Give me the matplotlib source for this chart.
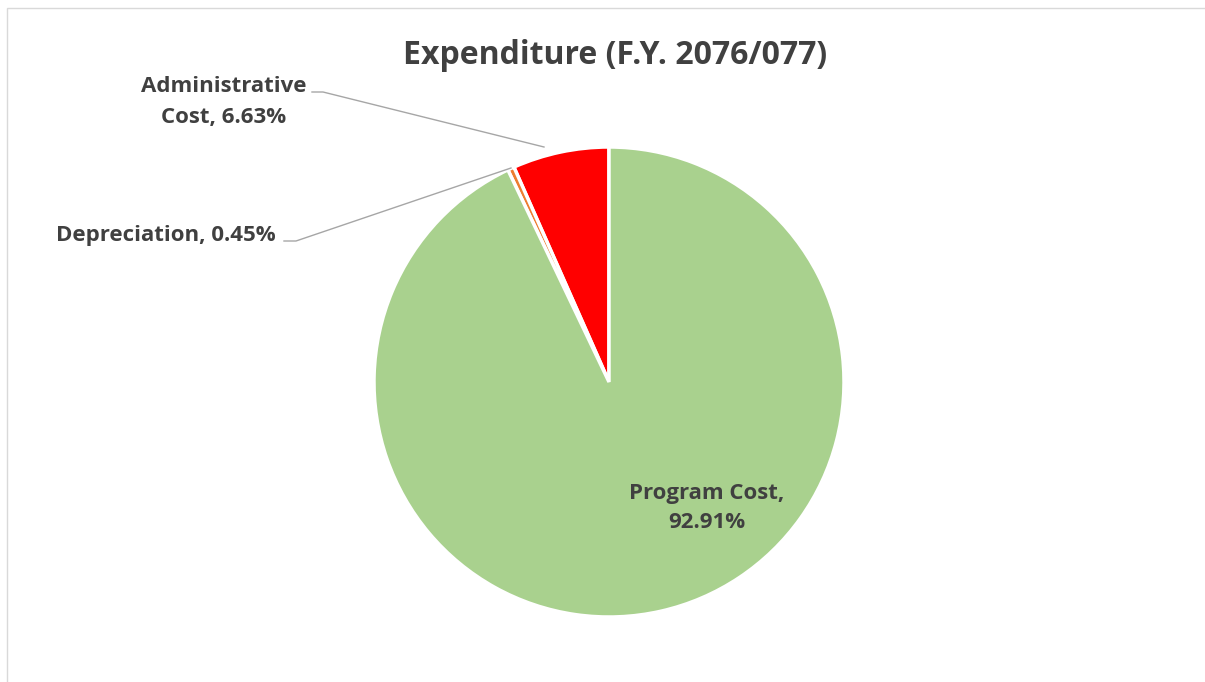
import matplotlib
matplotlib.use("Agg")
import matplotlib.pyplot as plt
from matplotlib.patches import Rectangle

plt.rcParams['font.family'] = ['Open Sans', 'DejaVu Sans']

# ---- data ----
categories = ["Administrative Cost", "Depreciation", "Program Cost"]
shares     = [6.63, 0.45, 92.91]
colors     = ["#FF0000", "#ED7D31", "#A9D18E"]
title      = "Expenditure (F.Y. 2076/077)"

W, H = 1205, 682
fig = plt.figure(figsize=(W / 100, H / 100), dpi=100)
ax = fig.add_axes([0, 0, 1, 1])

# pixel-like coordinates, y measured from bottom
cx, cy, R = 609, H - 382, 235
wedges, _ = ax.pie(shares, colors=colors, startangle=90, counterclock=True,
                   center=(cx, cy), radius=R,
                   wedgeprops=dict(edgecolor="white", linewidth=2.5))
ax.set_xlim(0, W)
ax.set_ylim(0, H)
ax.set_aspect("equal")
ax.axis("off")

# chart border
ax.add_patch(Rectangle((7, -10), W + 20, H - 8 + 10, fill=False,
                       edgecolor="#D9D9D9", linewidth=1.0, clip_on=False))

txt = "#404040"
ax.text(615, H - 56, title, ha="center", va="center", fontsize=23,
        fontweight="bold", color=txt)

# labels
lab_admin = f"Administrative\n{categories[0].split()[1]}, {shares[0]:.2f}%"
lab_dep = f"{categories[1]}, {shares[1]:.2f}%"
lab_prog = f"Program Cost,\n{shares[2]:.2f}%"

ax.text(224, H - 102, lab_admin, ha="center", va="center", fontsize=16,
        fontweight="bold", color=txt, linespacing=1.6)
ax.text(166, H - 236, lab_dep, ha="center", va="center", fontsize=16,
        fontweight="bold", color=txt)
ax.text(707, H - 508, lab_prog, ha="center", va="center", fontsize=16,
        fontweight="bold", color=txt, linespacing=1.48)

# leader lines
lc = "#A6A6A6"
ax.plot([312, 323, 544], [H - 92, H - 92, H - 147], color=lc, lw=1.0)
ax.plot([284, 296, 511], [H - 241, H - 241, H - 168], color=lc, lw=1.0)

fig.savefig("out.png", dpi=100)
